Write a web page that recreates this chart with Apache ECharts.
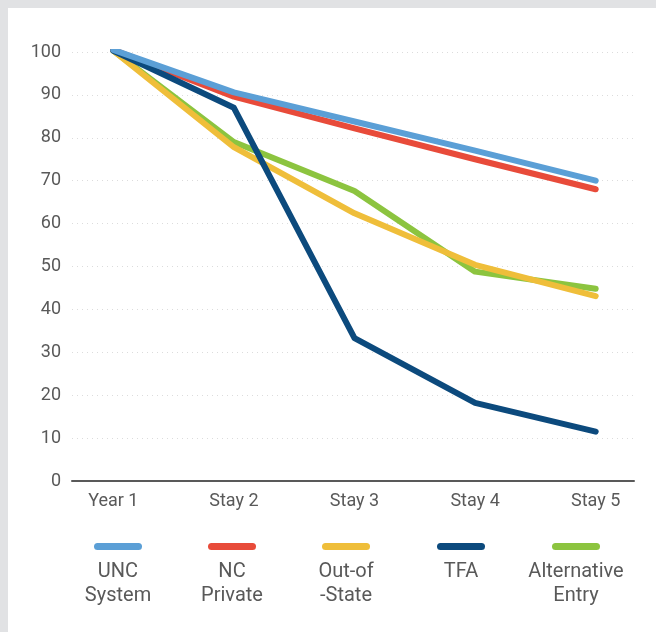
<!DOCTYPE html>
<html><head><meta charset="utf-8">
<script src="https://cdn.jsdelivr.net/npm/echarts@6/dist/echarts.min.js"></script>
<style>html,body{margin:0;padding:0;background:#e1e2e4;width:656px;height:632px;overflow:hidden}
#c{position:absolute;left:8px;top:8px;width:648px;height:624px;background:#fff}</style>
</head><body><div id="c"></div>
<script>
const categories = ['Year 1', 'Stay 2', 'Stay 3', 'Stay 4', 'Stay 5'];
const seriesNames = ['UNC System', 'NC Private', 'Out-of-State', 'TFA', 'Alternative Entry'];
const legendLabels = ['UNC\nSystem', 'NC\nPrivate', 'Out-of\n-State', 'TFA', 'Alternative\nEntry'];
const uncSystem = [100.5, 90.6, 83.8, 77, 70];
const ncPrivate = [100.5, 89.6, 82.2, 75, 68];
const outOfState = [100.3, 77.8, 62.4, 50.4, 43.1];
const tfa = [100.3, 87, 33.3, 18.2, 11.5];
const altEntry = [100.3, 79, 67.6, 48.8, 44.8];
const yTicks = [0, 100, 10];

const colors = ['#5b9fd6', '#e84b3a', '#efbe3a', '#0c4a7d', '#8cc43f'];
const zOrder = [6, 3, 2, 4, 1];
const values = [uncSystem, ncPrivate, outOfState, tfa, altEntry];

const chart = echarts.init(document.getElementById('c'));
const legendCenters = [110, 224, 338, 453, 568];
const graphics = [];
seriesNames.forEach((n, i) => {
  graphics.push({type: 'rect', left: legendCenters[i] - 24, top: 535,
    shape: {width: 48, height: 7, r: 3.5}, style: {fill: colors[i]}});
  graphics.push({type: 'text', x: legendCenters[i], y: 552,
    style: {text: legendLabels[i], align: 'center', verticalAlign: 'top',
      font: '20px Roboto', lineHeight: 24, fill: '#595959'}});
});

chart.setOption({
  animation: false,
  grid: [
    {left: 64, right: 22, top: 44, bottom: 151},
    {left: 45, width: 609, top: 44, bottom: 151}
  ],
  xAxis: [
    {gridIndex: 0, type: 'value', min: 0, max: 1, axisLabel: {show: false},
      axisTick: {show: false}, splitLine: {show: false},
      axisLine: {show: true, lineStyle: {color: '#595959', width: 2}}},
    {gridIndex: 1, type: 'category', data: categories, boundaryGap: true,
      axisLine: {show: false}, axisTick: {show: false},
      axisLabel: {fontSize: 18, color: '#595959', fontFamily: 'Roboto', margin: 11}}
  ],
  yAxis: [
    {gridIndex: 0, type: 'value', min: yTicks[0], max: yTicks[1], interval: yTicks[2],
      axisLine: {show: false}, axisTick: {show: false},
      axisLabel: {fontSize: 18, color: '#595959', fontFamily: 'Roboto', margin: 11},
      splitLine: {show: true, lineStyle: {color: '#dcdcdc', width: 1, type: [1, 4]}}},
    {gridIndex: 1, type: 'value', min: yTicks[0], max: yTicks[1], show: false}
  ],
  series: seriesNames.map((n, i) => ({
    name: n, type: 'line', xAxisIndex: 1, yAxisIndex: 1, data: values[i],
    symbol: 'none', z: zOrder[i],
    lineStyle: {color: colors[i], width: 6, cap: 'round', join: 'round'},
    itemStyle: {color: colors[i]}
  })),
  graphic: graphics
});
</script></body></html>
